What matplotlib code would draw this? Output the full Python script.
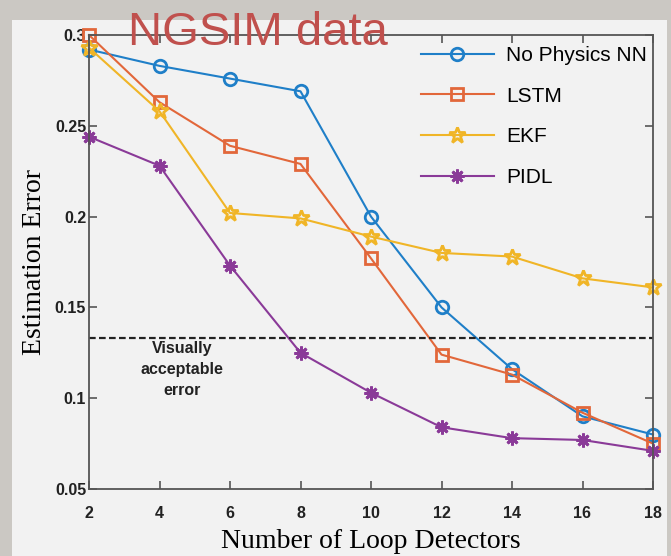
import matplotlib.pyplot as plt
from matplotlib.patches import Rectangle

# =========================
# Data
# =========================
n_detectors = [2, 4, 6, 8, 10, 12, 14, 16, 18]

err_nn = [0.292, 0.283, 0.276, 0.269, 0.200, 0.150, 0.116, 0.090, 0.080]
err_lstm = [0.300, 0.263, 0.239, 0.229, 0.177, 0.124, 0.113, 0.092, 0.075]
err_ekf = [0.293, 0.258, 0.202, 0.199, 0.189, 0.180, 0.178, 0.166, 0.161]
err_pidl = [0.244, 0.228, 0.173, 0.125, 0.103, 0.084, 0.078, 0.077, 0.071]

acceptable_err = 0.133

x_ticks = [2, 4, 6, 8, 10, 12, 14, 16, 18]
y_ticks = [0.05, 0.1, 0.15, 0.2, 0.25, 0.3]
y_tick_labels = ["0.05", "0.1", "0.15", "0.2", "0.25", "0.3"]

# =========================
# Figure
# =========================
W, H = 671, 556
fig = plt.figure(figsize=(W / 100, H / 100), dpi=100, facecolor="#cbc8c3")

# light panel behind the chart
fig.patches.append(Rectangle((12 / W, 0), (667 - 12) / W, (H - 20) / H,
                             transform=fig.transFigure, facecolor="#f2f2f2",
                             edgecolor="none", zorder=-10))

ax = fig.add_axes([89 / W, (H - 489) / H, (653 - 89) / W, (489 - 35) / H])
ax.set_facecolor("#f2f2f2")

lw = 1.5
ax.plot(n_detectors, err_nn, "-o", color="#1f7fc8", lw=lw, ms=9,
        mfc="none", mew=2, label="No Physics NN", clip_on=False)
ax.plot(n_detectors, err_lstm, "-s", color="#e2673a", lw=lw, ms=8,
        mfc="none", mew=2, label="LSTM", clip_on=False)
ax.plot(n_detectors, err_ekf, "-*", color="#f0b527", lw=lw, ms=12,
        mfc="none", mew=2, label="EKF", clip_on=False)
ax.plot(n_detectors, err_pidl, "-", marker=(8, 2, 0), color="#8a3a98",
        lw=lw, ms=10, mew=2, label="PIDL", clip_on=False)

ax.axhline(acceptable_err, color="#222222", ls=(0, (3, 1.5)), lw=1.6)
ax.text(4.64, 0.1315, "Visually\nacceptable\nerror", ha="center", va="top",
        fontsize=11.5, fontweight="bold", family="Liberation Sans",
        color="#222222", linespacing=1.5)

ax.set_xlim(2, 18)
ax.set_ylim(0.05, 0.3)
ax.set_xticks(x_ticks)
ax.set_yticks(y_ticks)
ax.set_yticklabels(y_tick_labels)

for side in ["top", "right", "left", "bottom"]:
    ax.spines[side].set_color("#555555")
    ax.spines[side].set_linewidth(1.3)
ax.tick_params(direction="in", length=6, width=1.2, color="#555555",
               top=True, right=True)
for lbl in ax.get_xticklabels() + ax.get_yticklabels():
    lbl.set_family("Liberation Sans")
    lbl.set_fontweight("bold")
    lbl.set_fontsize(11.5)
    lbl.set_color("#222222")
ax.tick_params(axis="x", pad=12)
ax.tick_params(axis="y", pad=2)

ax.set_xlabel("Number of Loop Detectors", family="Liberation Serif",
              fontsize=20, labelpad=6)
ax.set_ylabel("Estimation Error", family="Liberation Serif",
              fontsize=20, labelpad=6)

leg = ax.legend(loc="upper right", bbox_to_anchor=(1.008, 0.999), frameon=False,
                prop={"family": "Liberation Sans", "size": 15},
                handlelength=3.5, handletextpad=0.6, labelspacing=1.04,
                borderaxespad=0.1)

fig.text(128 / W, (H - 45) / H, "NGSIM data", color="#c0504d",
         fontsize=34, family="Liberation Sans", ha="left", va="baseline")

fig.savefig("out.png", dpi=100, facecolor=fig.get_facecolor())
